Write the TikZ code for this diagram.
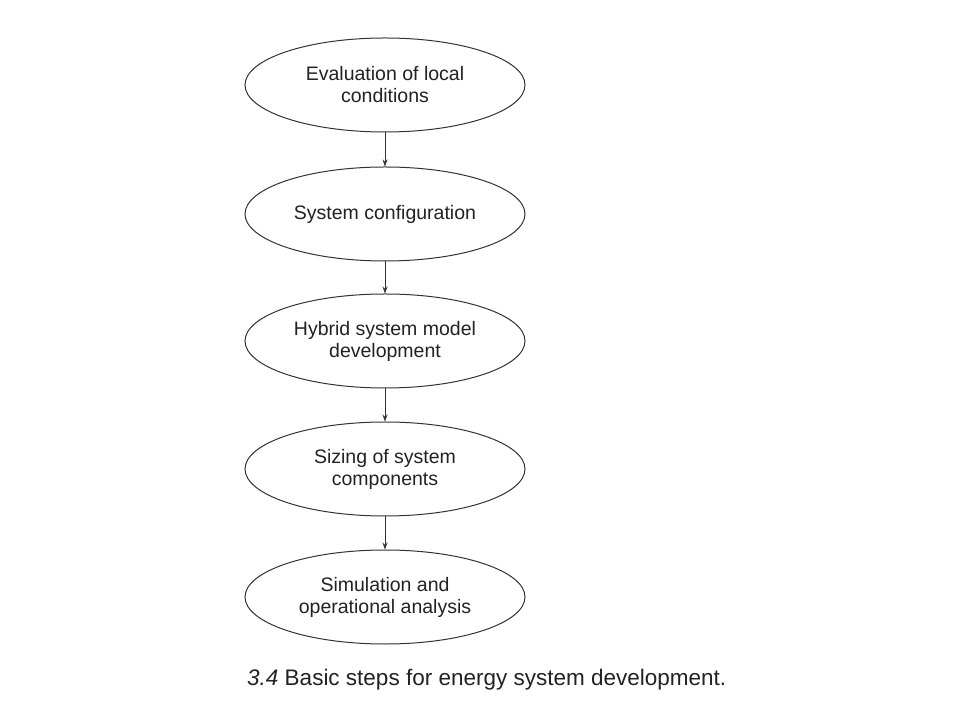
\documentclass[tikz,border=0pt]{standalone}
\usepackage{fontspec}
\setmainfont{Liberation Sans}
\usetikzlibrary{shapes.geometric,arrows.meta}
\definecolor{ink}{HTML}{222222}
\definecolor{edge}{HTML}{333333}
\begin{document}
\begin{tikzpicture}[x=1pt,y=1pt,
  stepnode/.style={ellipse,draw=edge,line width=1pt,minimum width=280pt,minimum height=94pt,inner sep=0pt,align=center,text=ink,font=\fontsize{19.5}{22}\selectfont},
  flow/.style={draw=edge,line width=1pt,-{Stealth[length=7pt,width=5pt]}}]
\useasboundingbox[fill=white] (0,0) rectangle (960,720);
\node[stepnode] (e1) at (385,635) {Evaluation of local\\conditions};
\node[stepnode] (e2) at (385,506) {System configuration};
\node[stepnode] (e3) at (385,379) {Hybrid system model\\development};
\node[stepnode] (e4) at (385,251) {Sizing of system\\components};
\node[stepnode] (e5) at (385,123) {Simulation and\\operational analysis};
\draw[flow] (e1.south) -- (e2.north);
\draw[flow] (e2.south) -- (e3.north);
\draw[flow] (e3.south) -- (e4.north);
\draw[flow] (e4.south) -- (e5.north);
\node[anchor=base west,inner sep=0pt,text=ink,font=\fontsize{22.5}{26}\selectfont] (cap) at (247,35) {\textit{3.4} Basic steps for energy system development.};
\end{tikzpicture}
\end{document}
